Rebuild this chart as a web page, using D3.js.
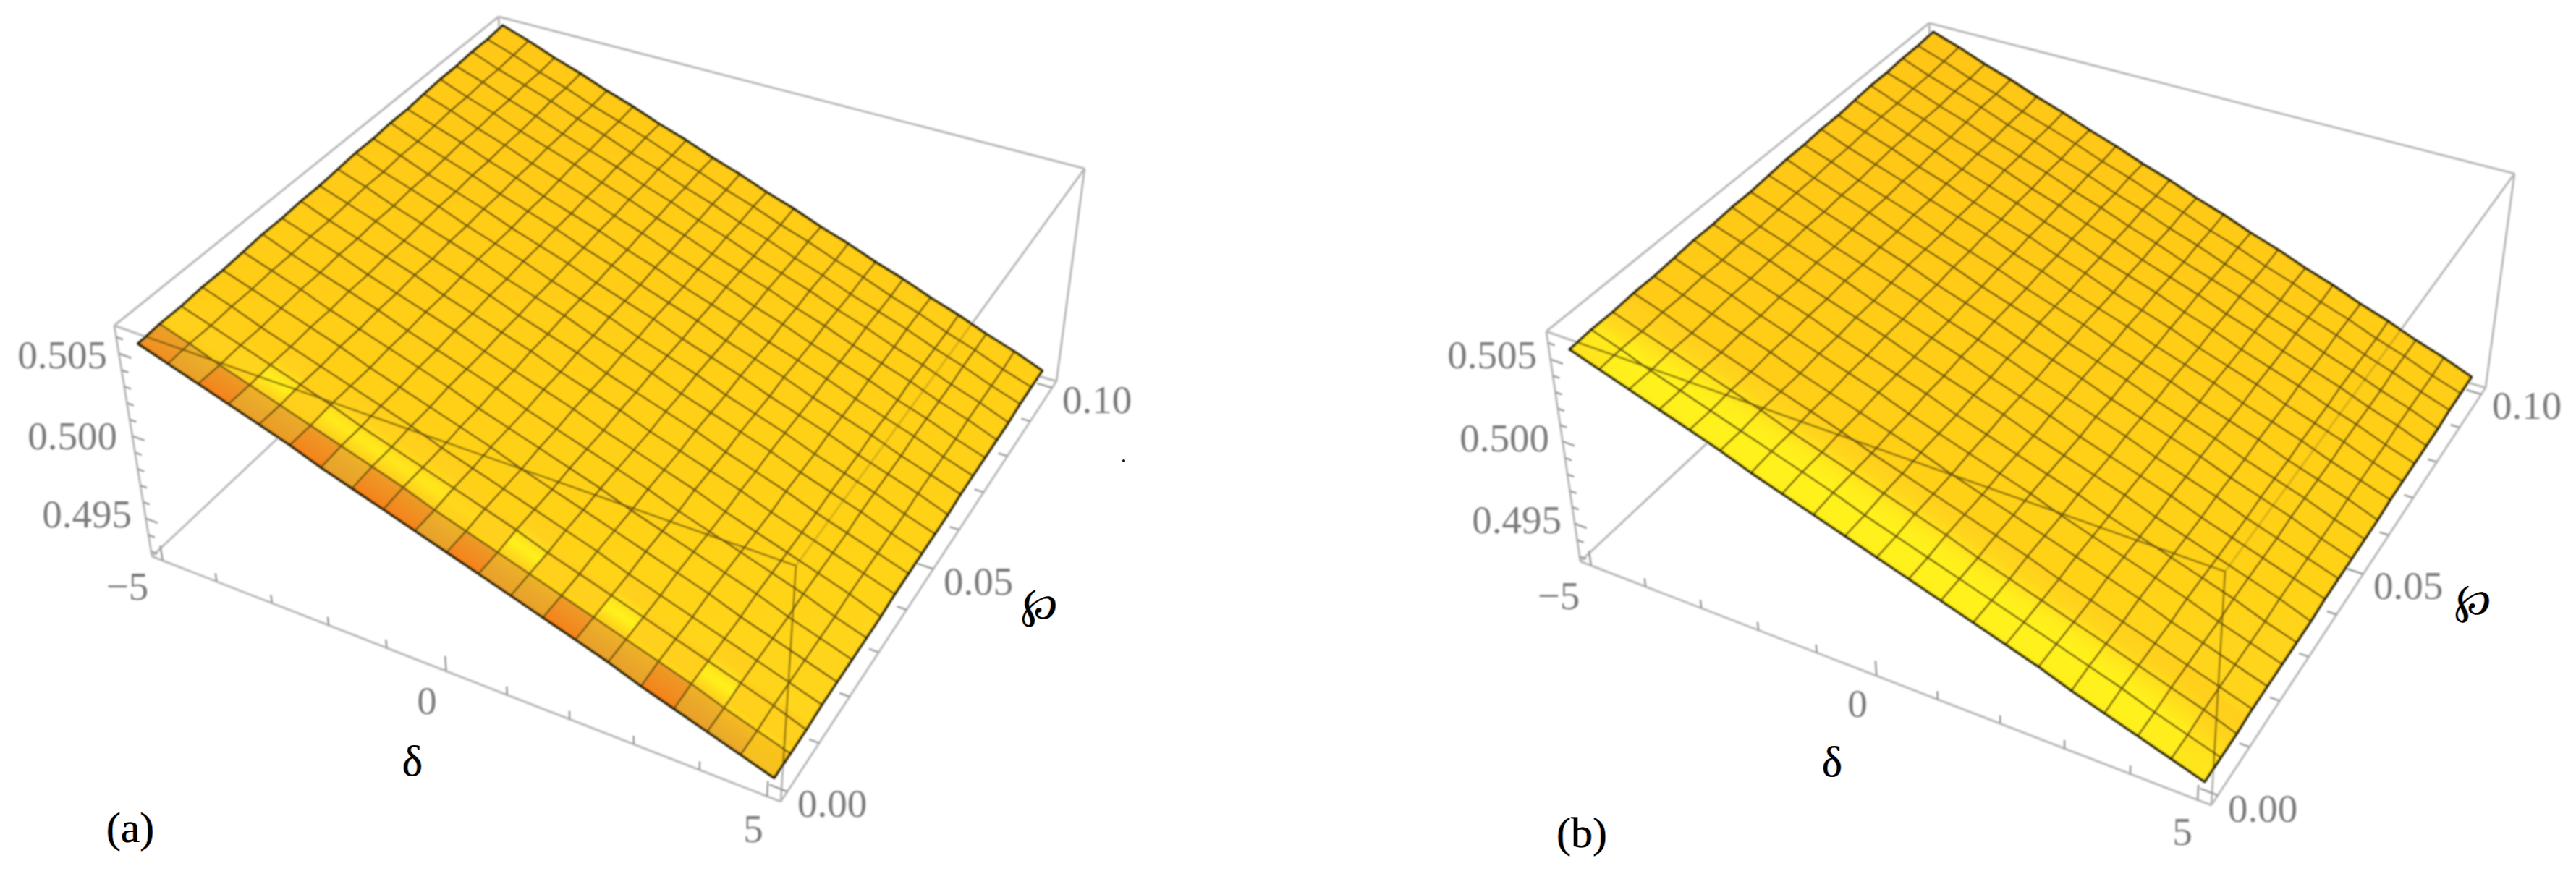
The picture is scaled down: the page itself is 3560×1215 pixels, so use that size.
<!DOCTYPE html>
<html>
<head>
<meta charset="utf-8">
<script src="https://d3js.org/d3.v7.min.js"></script>
<style>
  html, body { margin: 0; padding: 0; background: #fff; }
  svg { display: block; }
  .tick-label { font-family: "Liberation Serif", serif; font-size: 55px; fill: #7c7c7c; text-anchor: middle; }
  .title { font-family: "Liberation Serif", serif; fill: #000; text-anchor: middle;
           text-shadow: -1px 0 0 rgba(232,134,42,.7), 1px 0 0 rgba(42,140,255,.7); }
</style>
</head>
<body>
<svg id="chart" width="3560" height="1215"></svg>
<script>
// values
const deltaRange = [-5.2, 5.2];
const wpRange = [-0.002, 0.102];
const zRange = [0.4927, 0.5067];

const deltaGrid = [-5, -4.5, -4, -3.5, -3, -2.5, -2, -1.5, -1, -0.5, 0, 0.5, 1, 1.5, 2, 2.5, 3, 3.5, 4, 4.5, 5];
const wpGrid = [0, 0.005, 0.01, 0.015, 0.02, 0.025, 0.03, 0.035, 0.04, 0.045, 0.05, 0.055, 0.06, 0.065, 0.07, 0.075, 0.08, 0.085, 0.09, 0.095, 0.1];

// one row per wpGrid value, one column per deltaGrid value
const surfaceZ = [
  [.5054,.5048,.5042,.5036,.5030,.5024,.5017,.5011,.5005,.4999,.4993,.4987,.4981,.4975,.4969,.4963,.4956,.4950,.4944,.4938,.4932],
  [.5055,.5049,.5042,.5036,.5030,.5024,.5018,.5012,.5006,.4999,.4993,.4987,.4981,.4975,.4969,.4963,.4957,.4951,.4944,.4938,.4932],
  [.5055,.5049,.5043,.5037,.5031,.5025,.5018,.5012,.5006,.5000,.4994,.4988,.4981,.4975,.4969,.4963,.4957,.4951,.4945,.4939,.4932],
  [.5056,.5050,.5043,.5037,.5031,.5025,.5019,.5013,.5006,.5000,.4994,.4988,.4982,.4976,.4969,.4963,.4957,.4951,.4945,.4939,.4933],
  [.5056,.5050,.5044,.5038,.5032,.5025,.5019,.5013,.5007,.5001,.4994,.4988,.4982,.4976,.4970,.4964,.4958,.4951,.4945,.4939,.4933],
  [.5057,.5051,.5045,.5038,.5032,.5026,.5020,.5014,.5007,.5001,.4995,.4989,.4983,.4976,.4970,.4964,.4958,.4952,.4945,.4939,.4933],
  [.5058,.5051,.5045,.5039,.5033,.5026,.5020,.5014,.5008,.5001,.4995,.4989,.4983,.4977,.4970,.4964,.4958,.4952,.4946,.4939,.4933],
  [.5058,.5052,.5046,.5039,.5033,.5027,.5021,.5014,.5008,.5002,.4996,.4989,.4983,.4977,.4971,.4964,.4958,.4952,.4946,.4940,.4933],
  [.5059,.5052,.5046,.5040,.5034,.5027,.5021,.5015,.5009,.5002,.4996,.4990,.4983,.4977,.4971,.4965,.4958,.4952,.4946,.4940,.4934],
  [.5059,.5053,.5047,.5040,.5034,.5028,.5022,.5015,.5009,.5003,.4996,.4990,.4984,.4978,.4971,.4965,.4959,.4952,.4946,.4940,.4934],
  [.5060,.5054,.5047,.5041,.5035,.5029,.5022,.5016,.5010,.5003,.4997,.4991,.4984,.4978,.4972,.4966,.4959,.4953,.4947,.4940,.4934],
  [.5061,.5054,.5048,.5042,.5035,.5029,.5023,.5016,.5010,.5004,.4997,.4991,.4985,.4978,.4972,.4966,.4959,.4953,.4947,.4940,.4934],
  [.5061,.5055,.5048,.5042,.5036,.5029,.5023,.5017,.5010,.5004,.4998,.4991,.4985,.4979,.4972,.4966,.4960,.4953,.4947,.4941,.4934],
  [.5062,.5055,.5049,.5043,.5036,.5030,.5024,.5017,.5011,.5004,.4998,.4992,.4985,.4979,.4973,.4966,.4960,.4954,.4947,.4941,.4935],
  [.5062,.5056,.5050,.5043,.5037,.5030,.5024,.5018,.5011,.5005,.4998,.4992,.4986,.4979,.4973,.4967,.4960,.4954,.4948,.4941,.4935],
  [.5063,.5057,.5050,.5044,.5037,.5031,.5025,.5018,.5012,.5005,.4999,.4993,.4986,.4980,.4973,.4967,.4961,.4954,.4948,.4941,.4935],
  [.5064,.5057,.5051,.5044,.5038,.5032,.5025,.5019,.5012,.5006,.4999,.4993,.4987,.4980,.4974,.4967,.4961,.4955,.4948,.4942,.4935],
  [.5064,.5058,.5051,.5045,.5038,.5032,.5026,.5019,.5013,.5006,.5000,.4993,.4987,.4981,.4974,.4968,.4961,.4955,.4948,.4942,.4935],
  [.5065,.5058,.5052,.5046,.5039,.5033,.5026,.5020,.5013,.5007,.5000,.4994,.4987,.4981,.4974,.4968,.4962,.4955,.4949,.4942,.4936],
  [.5065,.5059,.5052,.5046,.5039,.5033,.5027,.5020,.5014,.5007,.5001,.4994,.4988,.4981,.4975,.4968,.4962,.4955,.4949,.4942,.4936],
  [.5066,.5060,.5053,.5047,.5040,.5034,.5027,.5021,.5014,.5008,.5001,.4995,.4988,.4982,.4975,.4969,.4962,.4956,.4949,.4943,.4936]
];

const deltaMajor = [-5, 0, 5];
const deltaMinor = [-4, -3, -2, -1, 1, 2, 3, 4];
const wpMajor = [0, 0.05, 0.1];
const wpMinor = [0.01, 0.02, 0.03, 0.04, 0.06, 0.07, 0.08, 0.09];
const zMajor = [0.505, 0.5, 0.495];
const zMinor = [0.506, 0.504, 0.503, 0.502, 0.501, 0.499, 0.498, 0.497, 0.496, 0.494, 0.493];

const deltaLabels = ["\u22125", "0", "5"];
const wpLabels = ["0.00", "0.05", "0.10"];
const zLabels = ["0.505", "0.500", "0.495"];

// colour along the wp = 0 edge, one column per delta cell, one row per band stop
// -1 orange, 0 gold, 1 yellow
const bandStops = [0, 0.95, 1.05, 1.6, 2.3, 3];
const shadeA = [
  [-.8,-.5,-1,-.5,-.6,-1,-.5,-1,-1,-.5,-1,-.5,-.5,-1,-.5,-.5,-1,-.5,-.4,-.15],
  [-.5,-.3,-.6,-.3,-.35,-.6,-.3,-.6,-.6,-.3,-.6,-.3,-.3,-.6,-.3,-.3,-.6,-.3,-.2,-.1],
  [0,0,.05,.1,0,.05,.05,.05,.05,0,0,.05,0,0,.05,0,0,.05,0,0],
  [.1,.1,.2,.95,.1,.8,.8,.7,.7,.3,.1,.95,.1,.1,1,.1,.1,.95,.1,.1],
  [0,0,0,.1,0,.1,.1,.1,.1,0,0,.1,0,0,.1,0,0,.1,0,0],
  [0,0,0,0,0,0,0,0,0,0,0,0,0,0,0,0,0,0,0,0]
];
const shadeB = [
  [.6,.9,.95,.95,.95,.95,.95,.95,.95,.95,.95,.95,.95,.95,.95,.95,.95,.95,.9,.7],
  [.8,1,1,1,1,1,1,1,1,1,1,1,1,1,1,1,1,1,.9,.55],
  [.8,1,1,1,1,1,1,1,1,1,1,1,1,1,1,1,1,1,.9,.5],
  [.35,.6,.8,.85,.85,.85,.85,.85,.85,.85,.85,.85,.85,.85,.85,.85,.8,.7,.5,.2],
  [.05,.12,.2,.25,.25,.25,.25,.25,.25,.25,.25,.25,.25,.25,.25,.25,.2,.15,.1,.05],
  [0,0,0,0,0,0,0,0,0,0,0,0,0,0,0,0,0,0,0,0]
];

// where the box sits on the page, and where its labels go
const panelA = {
  A: [158, 450], B: [210, 769], C: [1079, 1108], D: [1460, 527],
  E: [1499, 233], F: [689, 23], G: [1100, 782], H: [704, 305],
  zPos: [[86, 490], [100, 602], [120, 710]],
  deltaPos: [[176, 810], [590, 968], [1041, 1145]],
  wpPos: [[1150, 1110], [1352, 803], [1516, 552]],
  deltaTitle: [570, 1052], wpTitle: [1437, 840],
  tag: "(a)", tagPos: [180, 1146], shade: shadeA,
  gold: ["#ffc819", "#ffd81a"]
};
const panelB = {
  A: [2137, 458], B: [2184, 776], C: [3056, 1113], D: [3435, 536],
  E: [3475, 240], F: [2666, 32], G: [3075, 790], H: [2680, 313],
  zPos: [[2062, 490], [2079, 605], [2096, 718]],
  deltaPos: [[2154, 823], [2567, 972], [3016, 1149]],
  wpPos: [[3127, 1117], [3328, 809], [3492, 560]],
  deltaTitle: [2532, 1053], wpTitle: [3418, 834],
  tag: "(b)", tagPos: [2186, 1153], shade: shadeB,
  gold: ["#ffc519", "#ffd81a"]
};

const svg = d3.select("#chart");
const defs = svg.append("defs");
defs.append("filter").attr("id", "soft")
    .attr("filterUnits", "userSpaceOnUse")
    .attr("x", 0).attr("y", 0).attr("width", 3560).attr("height", 1215)
  .append("feGaussianBlur").attr("stdDeviation", 1);

const u = d3.scaleLinear().domain(deltaRange).range([0, 1]);
const v = d3.scaleLinear().domain(wpRange).range([0, 1]);
const w = d3.scaleLinear().domain(zRange).range([0, 1]);
const shadeColor = d3.scaleLinear()
    .domain([-1, -0.4, 0, 1])
    .range(["#f5821c", "#e9a72b", "#ffce1a", "#fff21e"]);
const line = d3.line();
const n = deltaGrid.length - 1;

// unit square -> quad (p0 at 0,0  p1 at 1,0  p2 at 1,1  p3 at 0,1)
function quadMap(p0, p1, p2, p3) {
  let dx1 = p1[0] - p2[0], dx2 = p3[0] - p2[0], sx = p0[0] - p1[0] + p2[0] - p3[0];
  let dy1 = p1[1] - p2[1], dy2 = p3[1] - p2[1], sy = p0[1] - p1[1] + p2[1] - p3[1];
  let den = dx1 * dy2 - dx2 * dy1;
  let g = (sx * dy2 - dx2 * sy) / den, h = (dx1 * sy - sx * dy1) / den;
  let a = p1[0] - p0[0] + g * p1[0], b = p3[0] - p0[0] + h * p3[0];
  let d = p1[1] - p0[1] + g * p1[1], e = p3[1] - p0[1] + h * p3[1];
  return function(s, t) {
    let q = g * s + h * t + 1;
    return [(a * s + b * t + p0[0]) / q, (d * s + e * t + p0[1]) / q];
  };
}

function drawPanel(p) {
  const bottom = quadMap(p.B, p.C, p.D, p.H);
  const top = quadMap(p.A, p.G, p.E, p.F);
  // delta, wp, z -> page
  function project(dv, wv, zv) {
    let b = bottom(u(dv), v(wv)), t = top(u(dv), v(wv)), k = w(zv);
    return [b[0] + (t[0] - b[0]) * k, b[1] + (t[1] - b[1]) * k];
  }
  const pts = wpGrid.map((wv, j) => deltaGrid.map((dv, i) => project(dv, wv, surfaceZ[j][i])));
  // point inside the grid at fractional wp index
  function at(i, t) {
    let j = Math.min(Math.floor(t), n - 1), f = t - j;
    return d3.interpolate(pts[j][i], pts[j + 1][i])(f);
  }

  const g = svg.append("g").attr("filter", "url(#soft)");
  const zMax = zRange[1], zMin = zRange[0], dMin = deltaRange[0], dMax = deltaRange[1], wMin = wpRange[0], wMax = wpRange[1];

  // the twelve box edges, all behind the surface
  const boxEdges = [
    [[dMin, wMin, zMax], [dMin, wMin, zMin]], [[dMin, wMin, zMin], [dMax, wMin, zMin]],
    [[dMax, wMin, zMin], [dMax, wMax, zMin]], [[dMax, wMax, zMin], [dMax, wMax, zMax]],
    [[dMax, wMax, zMax], [dMin, wMax, zMax]], [[dMin, wMax, zMax], [dMin, wMin, zMax]],
    [[dMin, wMin, zMax], [dMax, wMin, zMax]], [[dMax, wMin, zMax], [dMax, wMin, zMin]],
    [[dMax, wMin, zMax], [dMax, wMax, zMax]], [[dMin, wMin, zMin], [dMin, wMax, zMin]],
    [[dMin, wMax, zMin], [dMin, wMax, zMax]], [[dMin, wMax, zMin], [dMax, wMax, zMin]]
  ];
  g.append("g").selectAll("path").data(boxEdges).join("path")
      .attr("d", e => line(e.map(c => project(c[0], c[1], c[2]))))
      .attr("fill", "none").attr("stroke", "#b9b9b9").attr("stroke-width", 3);

  // ticks
  const tickPath = (from, to) => line([project(from[0], from[1], from[2]), project(to[0], to[1], to[2])]);
  const ticks = [];
  deltaMajor.forEach(d => ticks.push(tickPath([d, wMin, zMin], [d, wMin, zMin + 0.0009])));
  deltaMinor.forEach(d => ticks.push(tickPath([d, wMin, zMin], [d, wMin, zMin + 0.0005])));
  wpMajor.forEach(d => ticks.push(tickPath([dMax, d, zMin], [dMax - 0.26, d, zMin])));
  wpMinor.forEach(d => ticks.push(tickPath([dMax, d, zMin], [dMax - 0.15, d, zMin])));
  zMajor.forEach(d => ticks.push(tickPath([dMin, wMin, d], [dMin + 0.22, wMin, d])));
  zMinor.forEach(d => ticks.push(tickPath([dMin, wMin, d], [dMin + 0.12, wMin, d])));
  g.append("g").selectAll("path").data(ticks).join("path")
      .attr("d", d => d)
      .attr("fill", "none").attr("stroke", "#9a9a9a").attr("stroke-width", 2.5);

  // surface body
  const outline = [].concat(
    pts[0],
    pts.map(r => r[n]),
    pts[n].slice().reverse(),
    pts.map(r => r[0]).reverse()
  );
  const gid = "gold" + p.tag[1];
  const grad = defs.append("linearGradient").attr("id", gid)
      .attr("gradientUnits", "userSpaceOnUse")
      .attr("x1", 0).attr("x2", 0).attr("y1", p.F[1]).attr("y2", p.C[1]);
  grad.append("stop").attr("offset", 0).attr("stop-color", p.gold[0]);
  grad.append("stop").attr("offset", 1).attr("stop-color", p.gold[1]);
  defs.append("clipPath").attr("id", "clip" + p.tag[1])
    .append("path").attr("d", line(outline) + "Z");
  g.append("path").attr("d", line(outline) + "Z").attr("fill", "url(#" + gid + ")");

  // coloured band along the wp = 0 edge
  const strips = [];
  d3.range(n).forEach(i => {
    d3.range(0, 3, 0.1).forEach(t => {
      let mid = t + 0.05;
      let s = Math.min(d3.bisectRight(bandStops, mid) - 1, bandStops.length - 2);
      let f = (mid - bandStops[s]) / (bandStops[s + 1] - bandStops[s]);
      let val = p.shade[s][i] + (p.shade[s + 1][i] - p.shade[s][i]) * f;
      if (Math.abs(val) < 0.02) return;
      strips.push({ poly: [at(i, t), at(i + 1, t), at(i + 1, t + 0.12), at(i, t + 0.12)], val: val });
    });
  });
  g.append("g").selectAll("path").data(strips).join("path")
      .attr("d", s => line(s.poly) + "Z")
      .attr("fill", s => shadeColor(s.val));

  // mesh
  const meshRows = d3.range(1, n).map(j => pts[j]);
  const meshCols = d3.range(1, n).map(i => pts.map(r => r[i]));
  g.append("g").selectAll("path").data(meshRows.concat(meshCols)).join("path")
      .attr("d", line)
      .attr("fill", "none").attr("stroke", "#6f5710").attr("stroke-width", 2.5);

  // box edges seen through the surface
  const through = [
    { e: [[dMin, wMin, zMax], [dMax, wMin, zMax]], o: 0.65 },
    { e: [[dMax, wMin, zMax], [dMax, wMin, zMin]], o: 0.6 },
    { e: [[dMax, wMin, zMax], [dMax, wMax, zMax]], o: 0.25 }
  ];
  g.append("g").attr("clip-path", "url(#clip" + p.tag[1] + ")")
    .selectAll("path").data(through).join("path")
      .attr("d", d => line(d.e.map(c => project(c[0], c[1], c[2]))))
      .attr("fill", "none").attr("stroke", "#5e4a05").attr("stroke-width", 2.8)
      .attr("opacity", d => d.o);

  // surface border
  g.append("path").attr("d", line(outline) + "Z")
      .attr("fill", "none").attr("stroke", "#1f1a06").attr("stroke-width", 3.4)
      .attr("stroke-linejoin", "round");

  // tick labels
  const labelSets = [
    { text: zLabels, pos: p.zPos },
    { text: deltaLabels, pos: p.deltaPos },
    { text: wpLabels, pos: p.wpPos }
  ];
  labelSets.forEach(set => {
    g.append("g").selectAll("text").data(set.text).join("text")
        .attr("class", "tick-label")
        .attr("x", (d, i) => set.pos[i][0])
        .attr("y", (d, i) => set.pos[i][1])
        .attr("dy", "0.34em")
        .text(d => d);
  });

  // titles stay sharp
  svg.append("text").attr("class", "title")
      .attr("x", p.deltaTitle[0]).attr("y", p.deltaTitle[1]).attr("dy", "0.34em")
      .style("font-size", "60px").text("\u03b4");
  svg.append("text").attr("class", "title")
      .attr("transform", "translate(" + p.wpTitle[0] + "," + p.wpTitle[1] + ") rotate(8)")
      .attr("dy", "0.25em")
      .style("font-family", "'DejaVu Serif', serif").style("font-size", "58px")
      .text("\u2118");
  svg.append("text").attr("class", "title")
      .attr("x", p.tagPos[0]).attr("y", p.tagPos[1]).attr("dy", "0.3em")
      .style("font-size", "60px").text(p.tag);
}

drawPanel(panelA);
drawPanel(panelB);

// stray speck to the right of panel (a)
svg.append("circle").attr("cx", 1553).attr("cy", 637).attr("r", 2).attr("fill", "#111");
</script>
</body>
</html>
